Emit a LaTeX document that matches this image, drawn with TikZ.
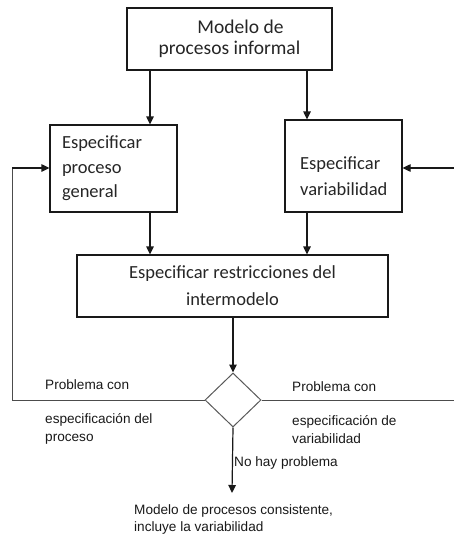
\documentclass[tikz,border=0pt]{standalone}
\usepackage{fontspec}
\setmainfont{Carlito}
\newfontfamily\labelfont{Liberation Sans}
\usetikzlibrary{arrows.meta,shapes.geometric}

\tikzset{
  box/.style={draw=black!90, line width=1.2pt, inner sep=0pt, fill=white, text=black!85},
  boxtext/.style={font=\fontsize{18.5}{26}\selectfont, inner sep=0pt, text=black!85},
  flow/.style={line width=1.2pt, draw=black!90, -{Triangle[length=8pt,width=7.5pt]}},
  loopline/.style={line width=1pt, draw=black!70},
  note/.style={font=\labelfont\fontsize{13.6}{17.5}\selectfont, inner sep=0pt, anchor=west,
               align=left, text=black!90},
  decision/.style={diamond, draw=black!65, line width=1pt, inner sep=0pt,
                   minimum width=56pt, minimum height=54pt, aspect=1}
}

\begin{document}
\begin{tikzpicture}[x=1pt,y=-1pt]
\useasboundingbox (0,0) rectangle (454,538);

% process boxes
\node[box, minimum width=205pt, minimum height=62pt, align=center,
      font=\fontsize{19.5}{21}\selectfont] (informal) at (229.5,39)
      {\hspace*{22pt}Modelo de\\procesos informal};
\node[box, minimum width=127pt, minimum height=87pt, text width=103pt,
      inner xsep=12pt, align=left, font=\fontsize{18.5}{24.5}\selectfont] (general) at (113.5,168.5)
      {Especificar\\proceso\\general};
\node[box, minimum width=117pt, minimum height=92pt] (variab) at (343.5,166) {};
\node[boxtext, anchor=west, align=left] (variabtext) at (300,176.5) {Especificar\\variabilidad};
\node[box, minimum width=311pt, minimum height=62pt, align=center,
      font=\fontsize{18.5}{27}\selectfont] (restric) at (232.5,286)
      {Especificar restricciones del\\intermodelo};

% decision
\node[decision] (check) at (233,400) {};

% free ends of the connectors
\coordinate (leftcorner) at (12,400);
\coordinate (lefttop) at (12,168);
\coordinate (rightend) at (454,400);
\coordinate (rightin) at (454,168);
\coordinate (result) at (232,493);
\coordinate (colL) at (150,0);
\coordinate (colR) at (307,0);

% main flow
\draw[flow] (informal.south -| colL) -- (general.north -| colL);
\draw[flow] (informal.south -| colR) -- (variab.north -| colR);
\draw[flow] (general.south -| colL) -- (restric.north -| colL);
\draw[flow] (variab.south -| colR) -- (restric.north -| colR);
\draw[flow] (restric.south -| check.north) -- (check.north);
\draw[flow] (check.south) -- (result);

% feedback loops
\draw[loopline] (check.west) -- (leftcorner) -- (lefttop);
\draw[flow] (lefttop) -- (general.west |- lefttop);
\draw[loopline] (check.east) -- (rightend);
\draw[flow] (rightin) -- (variab.east |- rightin);

% labels
\node[note] (probl1) at (45,385) {Problema con};
\node[note] (probl1b) at (45,429) {especificación del\\proceso};
\node[note] (probr1) at (292,387) {Problema con};
\node[note] (probr1b) at (292,429.5) {especificación de\\variabilidad};
\node[note] (noprob) at (234,463) {No hay problema};
\node[note] (final) at (134,519.5) {Modelo de procesos consistente,\\incluye la variabilidad};
\end{tikzpicture}
\end{document}
